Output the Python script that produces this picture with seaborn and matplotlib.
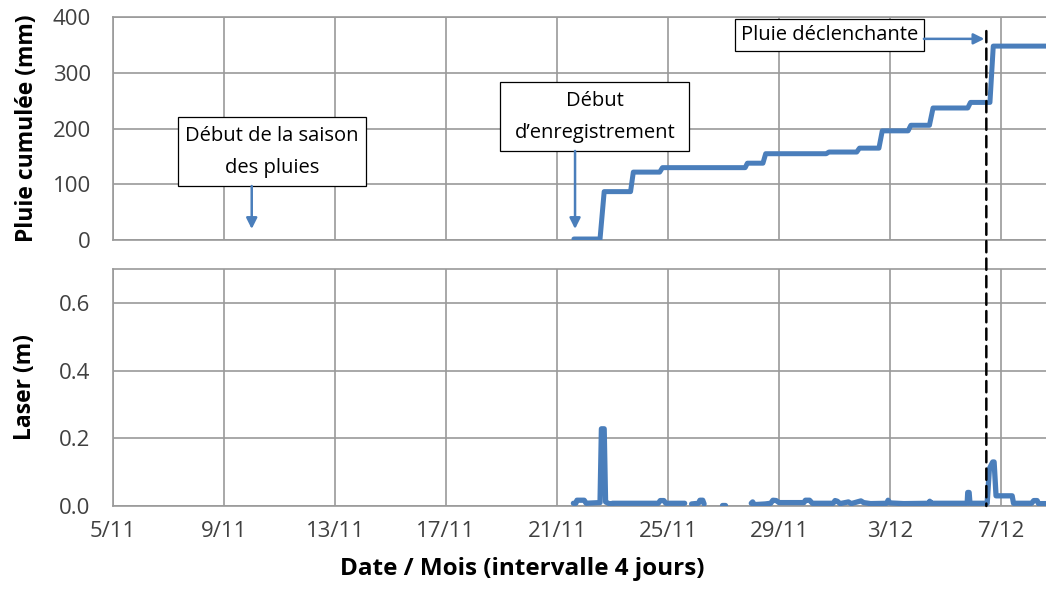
import numpy as np
import pandas as pd
import matplotlib
matplotlib.use("Agg")
import matplotlib.pyplot as plt
import seaborn as sns
from matplotlib.patches import Rectangle, ConnectionPatch
from matplotlib.ticker import MultipleLocator, FixedLocator

# ---------------- data (days since 5/11) ----------------
tick_days = [0, 4, 8, 12, 16, 20, 24, 28, 32]
tick_labels = ["5/11", "9/11", "13/11", "17/11", "21/11", "25/11", "29/11", "3/12", "7/12"]

rain_days = [16.61, 17.55, 17.70, 18.65, 18.75, 19.70, 19.80, 22.78, 22.86, 23.42, 23.52,
             25.70, 25.80, 26.80, 26.90, 27.60, 27.72, 28.65, 28.75, 29.42, 29.55,
             30.80, 30.90, 31.60, 31.72, 33.62]
rain_mm = [2, 2, 87, 87, 122, 122, 130, 130, 138, 138, 155,
           155, 158, 158, 165, 165, 196, 196, 206, 206, 237,
           237, 247, 247, 348, 348]

laser_seg_a_days = [16.59, 16.68, 16.72, 16.98, 17.05, 17.55, 17.60, 17.70, 17.75, 17.95,
                    18.00, 19.65, 19.72, 19.85, 19.92, 20.60]
laser_seg_a_m = [0.008, 0.008, 0.017, 0.017, 0.008, 0.010, 0.228, 0.228, 0.012, 0.004,
                 0.008, 0.008, 0.016, 0.016, 0.008, 0.008]
laser_seg_b_days = [20.85, 21.10, 21.15, 21.25, 21.30]
laser_seg_b_m = [0.006, 0.008, 0.017, 0.017, 0.006]
laser_seg_c_days = [21.95, 22.05]
laser_seg_c_m = [0.003, 0.003]
laser_seg_d_days = [23.00, 23.05, 23.10, 23.50, 23.70, 23.78, 23.90, 24.00, 24.30, 24.90,
                    24.95, 25.10, 25.20, 25.95, 26.02, 26.10, 26.20, 26.50, 26.60, 26.95,
                    27.05, 27.30, 27.88, 27.93, 28.00, 28.50, 29.40, 29.43, 29.50, 30.78,
                    30.80, 30.85, 30.88, 31.50, 31.58, 31.70, 31.75, 31.82, 32.40, 32.45,
                    33.10, 33.18, 33.30, 33.35, 33.62]
laser_seg_d_m = [0.008, 0.012, 0.004, 0.006, 0.008, 0.017, 0.016, 0.010, 0.010, 0.010,
                 0.017, 0.017, 0.008, 0.008, 0.016, 0.014, 0.007, 0.012, 0.007, 0.015,
                 0.010, 0.007, 0.008, 0.017, 0.009, 0.007, 0.008, 0.014, 0.008, 0.008,
                 0.040, 0.040, 0.008, 0.008, 0.110, 0.130, 0.130, 0.030, 0.030, 0.008,
                 0.008, 0.016, 0.016, 0.007, 0.007]

trigger_day = 31.47

# ---------------- style ----------------
sns.set_theme(style="white")
plt.rcParams["font.family"] = ["Open Sans", "DejaVu Sans"]

BLUE = "#4a7ebb"
GRID = "#9a9a9a"
TICKC = "#404040"

fig = plt.figure(figsize=(10.46, 5.90), dpi=100)
ax1 = fig.add_axes([0.108, 0.593, 0.892, 0.378])
ax2 = fig.add_axes([0.108, 0.1424, 0.892, 0.4016])

rain_df = pd.DataFrame({"day": rain_days, "mm": rain_mm})
sns.lineplot(data=rain_df, x="day", y="mm", ax=ax1, color=BLUE, lw=3.6,
             sort=False, estimator=None, zorder=3)

segs = [(laser_seg_a_days, laser_seg_a_m), (laser_seg_b_days, laser_seg_b_m),
        (laser_seg_c_days, laser_seg_c_m), (laser_seg_d_days, laser_seg_d_m)]
laser_df = pd.concat([pd.DataFrame({"day": d, "m": v, "seg": i}) for i, (d, v) in enumerate(segs)],
                     ignore_index=True)
sns.lineplot(data=laser_df, x="day", y="m", units="seg", ax=ax2, color=BLUE, lw=3.8,
             sort=False, estimator=None, zorder=3)

for ax in (ax1, ax2):
    ax.set_xlim(0, 33.62)
    ax.xaxis.set_major_locator(FixedLocator(tick_days))
    ax.xaxis.set_minor_locator(MultipleLocator(1))
    ax.grid(True, which="major", color=GRID, lw=1.2)
    ax.set_axisbelow(True)
    for side in ("left", "bottom", "top"):
        ax.spines[side].set_color(GRID)
        ax.spines[side].set_linewidth(1.2)
    ax.spines["right"].set_visible(False)
    ax.tick_params(axis="both", which="both", direction="out", color=GRID, width=1.2,
                   labelcolor=TICKC, labelsize=16)
    ax.tick_params(axis="x", which="major", length=7, pad=4)
    ax.tick_params(axis="x", which="minor", length=6)
    ax.tick_params(axis="y", which="major", length=6, pad=10)
    ax.set_xlabel("")

ax1.set_ylim(0, 400)
ax1.set_yticks([0, 100, 200, 300, 400])
ax1.set_xticklabels([])
ax1.set_ylabel("Pluie cumulée (mm)", fontsize=16.5, fontweight="bold", color="black")
ax1.yaxis.set_label_coords(-0.079, 0.5)

ax2.set_ylim(0, 0.7)
ax2.set_yticks([0.0, 0.2, 0.4, 0.6])
ax2.set_yticklabels(["0.0", "0.2", "0.4", "0.6"])
ax2.set_xticklabels(tick_labels)
ax2.set_ylabel("Laser (m)", fontsize=16.5, fontweight="bold", color="black")
ax2.yaxis.set_label_coords(-0.081, 0.5)

fig.text(522 / 1046, 0.035, "Date / Mois (intervalle 4 jours)", ha="center", va="center",
         fontsize=17.5, fontweight="bold", color="black")

# dashed trigger line across both panels
con = ConnectionPatch(xyA=(trigger_day, 375), coordsA=ax1.transData,
                      xyB=(trigger_day, 0), coordsB=ax2.transData,
                      color="black", lw=1.8, linestyle=(0, (4.5, 2.5)), zorder=5)
fig.add_artist(con)

# annotation boxes
boxes = [
    ((2.35, 97), 6.75, 123, "Début de la saison\ndes pluies"),
    ((13.96, 160), 6.81, 123, "Début\nd\u2019enregistrement"),
    ((22.43, 339), 6.79, 58, "Pluie déclenchante"),
]
for (x0, y0), w, h, txt in boxes:
    ax1.add_patch(Rectangle((x0, y0), w, h, facecolor="white", edgecolor="black", lw=0.9,
                            zorder=4, clip_on=False))
    ax1.text(x0 + w / 2, y0 + h / 2, txt, ha="center", va="center", fontsize=14.5,
             linespacing=1.8, color="black", zorder=5)

arrow_kw = dict(arrowstyle="-|>", color=BLUE, lw=1.8, mutation_scale=16, shrinkA=0, shrinkB=0)
ax1.annotate("", xy=(5.0, 20), xytext=(5.0, 97), arrowprops=arrow_kw, zorder=5)
ax1.annotate("", xy=(16.65, 20), xytext=(16.65, 160), arrowprops=arrow_kw, zorder=5)
ax1.annotate("", xy=(31.4, 361), xytext=(29.22, 361), arrowprops=arrow_kw, zorder=5)

fig.savefig("out.png", dpi=100, facecolor="white")
